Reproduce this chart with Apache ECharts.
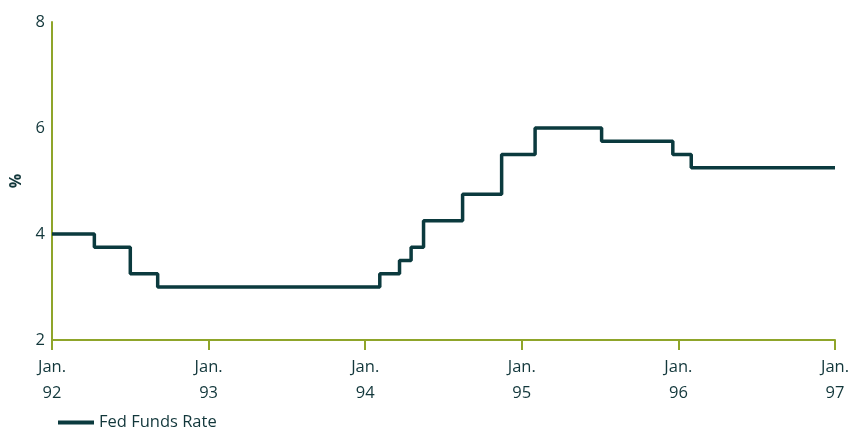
<!DOCTYPE html>
<html><head><meta charset="utf-8">
<script src="https://cdn.jsdelivr.net/npm/echarts@6/dist/echarts.min.js"></script>
<style>html,body{margin:0;padding:0;background:#fff}#c{width:852px;height:430px}</style>
</head><body><div id="c"></div>
<script>
// Change dates and rate after each change
const changeDates = ['1992-01-01','1992-04-09','1992-07-02','1992-09-04','1994-02-04','1994-03-22','1994-04-18','1994-05-17','1994-08-16','1994-11-15','1995-02-01','1995-07-06','1995-12-19','1996-01-31','1997-01-01'];
const rateValues  = [4.0, 3.75, 3.25, 3.0, 3.25, 3.5, 3.75, 4.25, 4.75, 5.5, 6.0, 5.75, 5.5, 5.25, 5.25];
const xTickLabels = ['Jan.\n92','Jan.\n93','Jan.\n94','Jan.\n95','Jan.\n96','Jan.\n97'];
const seriesName = 'Fed Funds Rate';

function toYear(s){
  const d = new Date(s + 'T00:00:00Z');
  const y = d.getUTCFullYear();
  const start = Date.UTC(y,0,1), end = Date.UTC(y+1,0,1);
  return y + (d.getTime()-start)/(end-start);
}
const data = changeDates.map((d,i)=>[toYear(d), rateValues[i]]);

const axisColor = '#8fa52a';
const textColor = '#12373b';
const font = 'Open Sans';
const chart = echarts.init(document.getElementById('c'));
chart.setOption({
  animation:false,
  grid:{left:52,right:17,top:22,bottom:90,containLabel:false,outerBoundsMode:'none'},
  xAxis:{type:'value',min:1992,max:1997,interval:1,
    axisLine:{show:true,lineStyle:{color:axisColor,width:2}},
    axisTick:{show:true,length:10,lineStyle:{color:axisColor,width:2}},
    splitLine:{show:false},
    axisLabel:{color:textColor,fontSize:16.5,fontFamily:font,lineHeight:26,margin:14,
      formatter:(v)=>xTickLabels[Math.round(v-1992)]}
  },
  yAxis:{type:'value',min:2,max:8,interval:2,name:'%',nameLocation:'middle',nameGap:28,
    nameTextStyle:{color:textColor,fontSize:16,fontFamily:font,fontWeight:'bold'},
    axisLine:{show:true,lineStyle:{color:axisColor,width:2}},
    axisTick:{show:false},splitLine:{show:false},
    axisLabel:{color:textColor,fontSize:16.5,fontFamily:font,margin:7}
  },
  legend:{left:53,top:409,itemWidth:36,itemHeight:4,icon:'rect',itemGap:8,
    textStyle:{color:textColor,fontSize:16.5,fontFamily:font},data:[seriesName]},
  series:[{name:seriesName,type:'line',step:'end',data:data,showSymbol:false,
    lineStyle:{color:'#0b3a3e',width:3.5},itemStyle:{color:'#0b3a3e'}}]
});
</script></body></html>
